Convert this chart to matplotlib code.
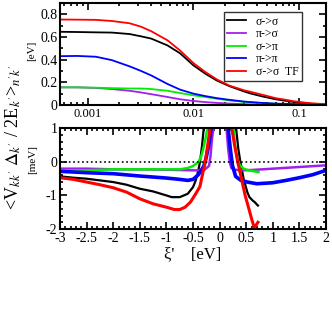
import numpy as np
import matplotlib
matplotlib.use("Agg")
import matplotlib.pyplot as plt
from matplotlib.ticker import MultipleLocator, FixedLocator, LogLocator, NullFormatter

plt.rcParams['font.family'] = ['Liberation Serif', 'DejaVu Serif']
plt.rcParams['mathtext.fontset'] = 'stix'
plt.rcParams['axes.unicode_minus'] = False

# top panel: <...> vs energy window (log axis)
x_top = [0.00055, 0.0008, 0.0012, 0.0017, 0.0025, 0.0032, 0.004, 0.0057, 0.0075,
         0.01, 0.013, 0.0167, 0.022, 0.03, 0.035, 0.045, 0.06, 0.07, 0.09, 0.12, 0.145, 0.18]
ss_top = [0.645, 0.643, 0.64, 0.638, 0.625, 0.605, 0.585, 0.525, 0.455,
          0.35, 0.275, 0.215, 0.165, 0.12, 0.1, 0.075, 0.05, 0.04, 0.025, 0.012, 0.007, 0.003]
ps_top = [0.155, 0.155, 0.15, 0.14, 0.125, 0.11, 0.095, 0.07, 0.05,
          0.035, 0.025, 0.018, 0.012, 0.007, 0.005, 0.002, 0.0, -0.002, -0.003, -0.004, -0.005, -0.005]
sp_top = [0.155, 0.155, 0.152, 0.148, 0.145, 0.145, 0.14, 0.125, 0.105,
          0.085, 0.07, 0.055, 0.04, 0.028, 0.022, 0.016, 0.01, 0.008, 0.005, 0.004, 0.003, 0.002]
pp_top = [0.43, 0.432, 0.425, 0.395, 0.34, 0.3, 0.26, 0.185, 0.135,
          0.1, 0.078, 0.06, 0.045, 0.03, 0.025, 0.018, 0.012, 0.01, 0.007, 0.005, 0.004, 0.003]
tf_top = [0.753, 0.752, 0.75, 0.74, 0.72, 0.69, 0.65, 0.57, 0.48,
          0.37, 0.29, 0.225, 0.17, 0.13, 0.115, 0.09, 0.06, 0.05, 0.032, 0.018, 0.012, 0.006]

# bottom panel: left and right branches (nan splits them)
nan = np.nan
ss_x = [-3, -2.75, -2.5, -2.25, -2.0, -1.75, -1.5, -1.25, -1.0, -0.9, -0.75, -0.6, -0.5, -0.45, -0.4, -0.37, -0.33, -0.3, -0.28,
        nan, 0.29, 0.31, 0.35, 0.39, 0.45, 0.52, 0.56, 0.62, 0.66, 0.7, 0.72]
ss_y = [-0.43, -0.47, -0.5, -0.55, -0.6, -0.68, -0.8, -0.88, -1.0, -1.05, -1.05, -0.95, -0.75, -0.55, -0.25, 0.0, 0.5, 1.0, 1.5,
        nan, 1.5, 1.0, 0.4, 0.0, -0.5, -0.9, -1.05, -1.15, -1.2, -1.27, -1.3]
ps_x = [-3, -2.5, -2.0, -1.5, -1.0, -0.5, -0.3, -0.2, -0.17, -0.15, -0.12, -0.1,
        nan, 0.1, 0.13, 0.16, 0.19, 0.22, 0.27, 0.4, 0.6, 1.0, 1.5, 2.0]
ps_y = [-0.2, -0.2, -0.22, -0.22, -0.23, -0.25, -0.25, -0.12, 0.2, 0.6, 1.0, 1.5,
        nan, 1.5, 1.0, 0.4, 0.0, -0.18, -0.23, -0.25, -0.24, -0.2, -0.15, -0.1]
sp_x = [-3, -2.5, -2.0, -1.5, -1.0, -0.75, -0.6, -0.5, -0.4, -0.35, -0.3, -0.26, -0.23, -0.21,
        nan, 0.24, 0.26, 0.29, 0.33, 0.38, 0.45, 0.55, 0.65, 0.73]
sp_y = [-0.25, -0.25, -0.22, -0.22, -0.22, -0.22, -0.18, -0.12, 0.0, 0.15, 0.45, 0.75, 1.0, 1.5,
        nan, 1.5, 1.0, 0.5, 0.1, -0.1, -0.2, -0.25, -0.28, -0.3]
pp_x = [-3, -2.5, -2.0, -1.5, -1.0, -0.75, -0.6, -0.5, -0.4, -0.3, -0.25, -0.2, -0.16, -0.14,
        nan, 0.14, 0.16, 0.2, 0.24, 0.3, 0.4, 0.52, 0.7, 1.0, 1.25, 1.5, 1.75, 2.0]
pp_y = [-0.28, -0.32, -0.35, -0.42, -0.48, -0.52, -0.55, -0.52, -0.38, -0.13, 0.15, 0.55, 1.0, 1.5,
        nan, 1.5, 1.0, 0.4, -0.1, -0.43, -0.55, -0.6, -0.65, -0.62, -0.55, -0.47, -0.38, -0.25]
tf_x = [-3, -2.75, -2.5, -2.25, -2.0, -1.75, -1.5, -1.25, -1.0, -0.85, -0.75, -0.65, -0.55, -0.45, -0.37, -0.32, -0.27, -0.22, -0.18, -0.16,
        nan, 0.21, 0.23, 0.28, 0.34, 0.41, 0.48, 0.55, 0.61, 0.65, 0.68, 0.72]
tf_y = [-0.47, -0.52, -0.6, -0.68, -0.77, -0.9, -1.1, -1.25, -1.35, -1.42, -1.42, -1.35, -1.2, -0.95, -0.73, -0.35, 0.0, 0.55, 1.0, 1.5,
        nan, 1.5, 1.0, 0.5, 0.0, -0.5, -1.0, -1.4, -1.75, -1.95, -1.9, -1.8]

labels = ['σ->σ', 'π->σ', 'σ->π', 'π->π', 'σ->σ  TF']
colors = ['black', '#a020f0', '#00ee00', 'blue', 'red']

fig = plt.figure(figsize=(3.32, 3.18), dpi=100)
ax1 = fig.add_axes([0.181, 0.670, 0.801, 0.321])
ax2 = fig.add_axes([0.181, 0.280, 0.801, 0.316])

for ys, c, lab in zip([ss_top, ps_top, sp_top, pp_top, tf_top], colors, labels):
    ax1.plot(x_top, ys, color=c, lw=1.3, label=lab)
ax1.set_xscale('log')
ax1.set_xlim(0.00055, 0.18)
ax1.set_ylim(0, 0.9)
ax1.yaxis.set_major_locator(MultipleLocator(0.2))
ax1.yaxis.set_minor_locator(MultipleLocator(0.1))
ax1.xaxis.set_major_locator(FixedLocator([0.001, 0.01, 0.1]))
ax1.set_xticklabels(['0.001', '0.01', '0.1'])
ax1.xaxis.set_minor_locator(LogLocator(base=10, subs=np.arange(2, 10)))
ax1.xaxis.set_minor_formatter(NullFormatter())
ax1.set_yticks([0, 0.2, 0.4, 0.6, 0.8])
ax1.set_yticklabels(['0', '0.2', '0.4', '0.6', '0.8'])
leg = ax1.legend(loc='upper right', bbox_to_anchor=(0.91, 0.91), fontsize=8.5,
                 frameon=True, fancybox=False, edgecolor='black', handlelength=1.6,
                 labelspacing=0.05, borderpad=0.3, handletextpad=0.8, borderaxespad=0)
leg.get_frame().set_linewidth(1.0)

for xs, ys, c, lw in zip([ss_x, ps_x, sp_x, pp_x, tf_x], [ss_y, ps_y, sp_y, pp_y, tf_y],
                         colors, [1.6, 1.8, 1.8, 2.6, 2.2]):
    ax2.plot(xs, ys, color=c, lw=lw)
ax2.axhline(0, color='black', ls=':', lw=1.2)
ax2.set_xlim(-3, 2)
ax2.set_ylim(-2, 1)
ax2.xaxis.set_major_locator(MultipleLocator(0.5))
ax2.xaxis.set_minor_locator(MultipleLocator(0.1))
ax2.yaxis.set_major_locator(MultipleLocator(1))
ax2.yaxis.set_minor_locator(MultipleLocator(0.2))
ax2.set_xticklabels([])
xt = np.arange(-3, 2.01, 0.5)
ax2.set_xticks(xt)
ax2.set_xticklabels(['%g' % v for v in xt])
ax2.set_xlabel("ξ'    [eV]", fontsize=12, labelpad=1)

for ax in (ax1, ax2):
    for s in ax.spines.values():
        s.set_linewidth(1.5)
    ax.tick_params(which='both', direction='in', top=True, right=True, width=1.2, labelsize=10, pad=2)
    ax.tick_params(which='major', length=5)
    ax.tick_params(which='minor', length=2.5)
ax1.tick_params(axis='x', labelsize=9)

fig.text(0.04, 0.57, r"<V$_{kk'}$ $\Delta_{k'}$ / 2E$_{k'}$>$_{n'k'}$", rotation=90,
         ha='center', va='center', fontsize=13)
fig.text(0.095, 0.84, '[eV]', rotation=90, ha='center', va='center', fontsize=8)
fig.text(0.098, 0.50, '[meV]', rotation=90, ha='center', va='center', fontsize=8)

fig.savefig('out.png', dpi=100)
